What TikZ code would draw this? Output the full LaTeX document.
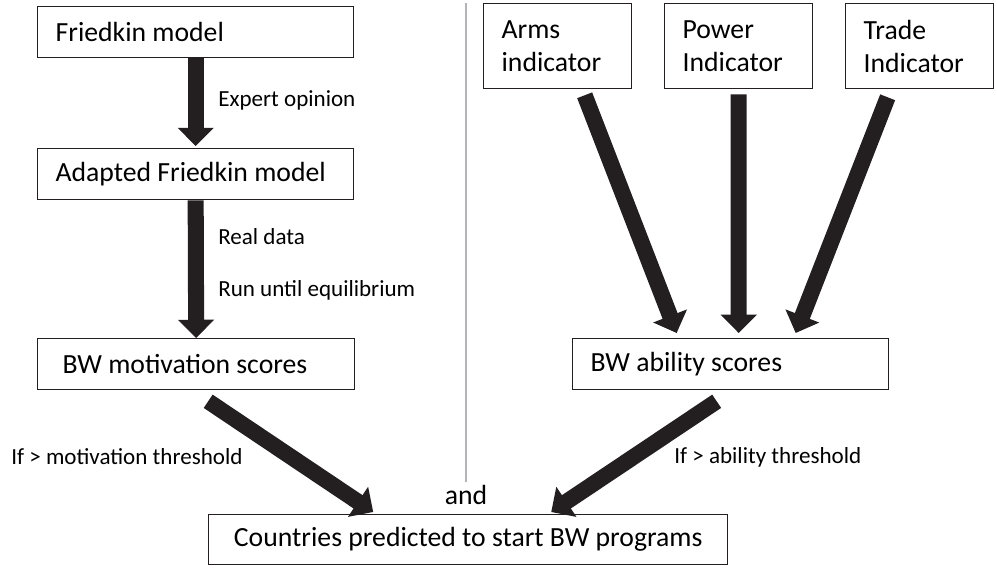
\documentclass[tikz,border=0pt]{standalone}
\usepackage{fontspec}
\setmainfont{Carlito}
\usepackage{xcolor}
\usepackage{tikz}
\usetikzlibrary{arrows.meta}
\definecolor{inkblack}{RGB}{35,31,32}
\definecolor{rulegray}{RGB}{180,180,184}
\newcommand{\boxfont}{\fontsize{19.7}{23.6}\selectfont}
\newcommand{\notefont}{\fontsize{16.4}{19.7}\selectfont}

\begin{document}
\begin{tikzpicture}[x=0.025cm,y=-0.025cm,
		box/.style={draw=inkblack,line width=0.9pt,rectangle,anchor=north west,align=flush left,inner xsep=0.45cm,inner ysep=0pt,minimum height=1.275cm,font=\boxfont},
		note/.style={anchor=west,inner sep=0pt,font=\notefont},
		fatarrow/.style={draw=inkblack,line width=11.4pt,-{Triangle[width=25pt,length=13pt]}}]
		\useasboundingbox (0,0) rectangle (997,571);
		% motivation side
		\node[box,text width=7cm] (friedkin) at (37,6) {Friedkin model};
		\node[box,text width=7cm] (adapted) at (37,148) {Adapted Friedkin model};
		\node[box,text width=6.675cm,inner xsep=0.625cm] (motiv) at (37,338) {BW motivation scores};
		% ability side
		\node[box,text width=2.8cm,minimum height=2.125cm] (arms) at (483,3) {Arms\\indicator};
		\node[box,text width=2.8cm,minimum height=2.125cm] (power) at (664,3) {Power\\Indicator};
		\node[box,text width=2.8cm,minimum height=2.125cm] (trade) at (845,3) {Trade\\Indicator};
		\node[box,text width=7cm] (ability) at (572,338) {BW ability scores};
		% result
		\node[box,align=center,inner xsep=0pt,minimum width=12.975cm,minimum height=1.25cm] (result) at (208,514) {Countries predicted to start BW programs};
		\node[font=\boxfont,inner sep=0pt] (and) at (466,495) {and};
		\node[note] (expert) at (218,100) {Expert opinion};
		\node[note] (realdata) at (218,237) {Real data};
		\node[note] (rununtil) at (218,290) {Run until equilibrium};
		\node[note] (motivif) at (11,457) {If > motivation threshold};
		\node[note] (abilityif) at (674,457) {If > ability threshold};
		\draw[rulegray,line width=1.1pt] (466,3) -- (466,482);
		\draw[fatarrow,shorten >=1.4pt] (friedkin.south) -- (adapted.north);
		\draw[fatarrow] (adapted.south) -- (motiv.north);
		\draw[fatarrow] ([shift={(27,6)}]arms.south) -- ([shift={(-54,-5)}]ability.north);
		\draw[fatarrow] ([shift={(0,5)}]power.south) -- ([shift={(8,-5)}]ability.north);
		\draw[fatarrow] ([shift={(-32,8)}]trade.south) -- ([shift={(65,-5)}]ability.north);
		\draw[fatarrow] ([shift={(12,11)}]motiv.south) -- ([shift={(-95,-2)}]result.north);
		\draw[fatarrow] ([shift={(-14,11)}]ability.south) -- ([shift={(83,-2)}]result.north);
	\end{tikzpicture}
\end{document}
